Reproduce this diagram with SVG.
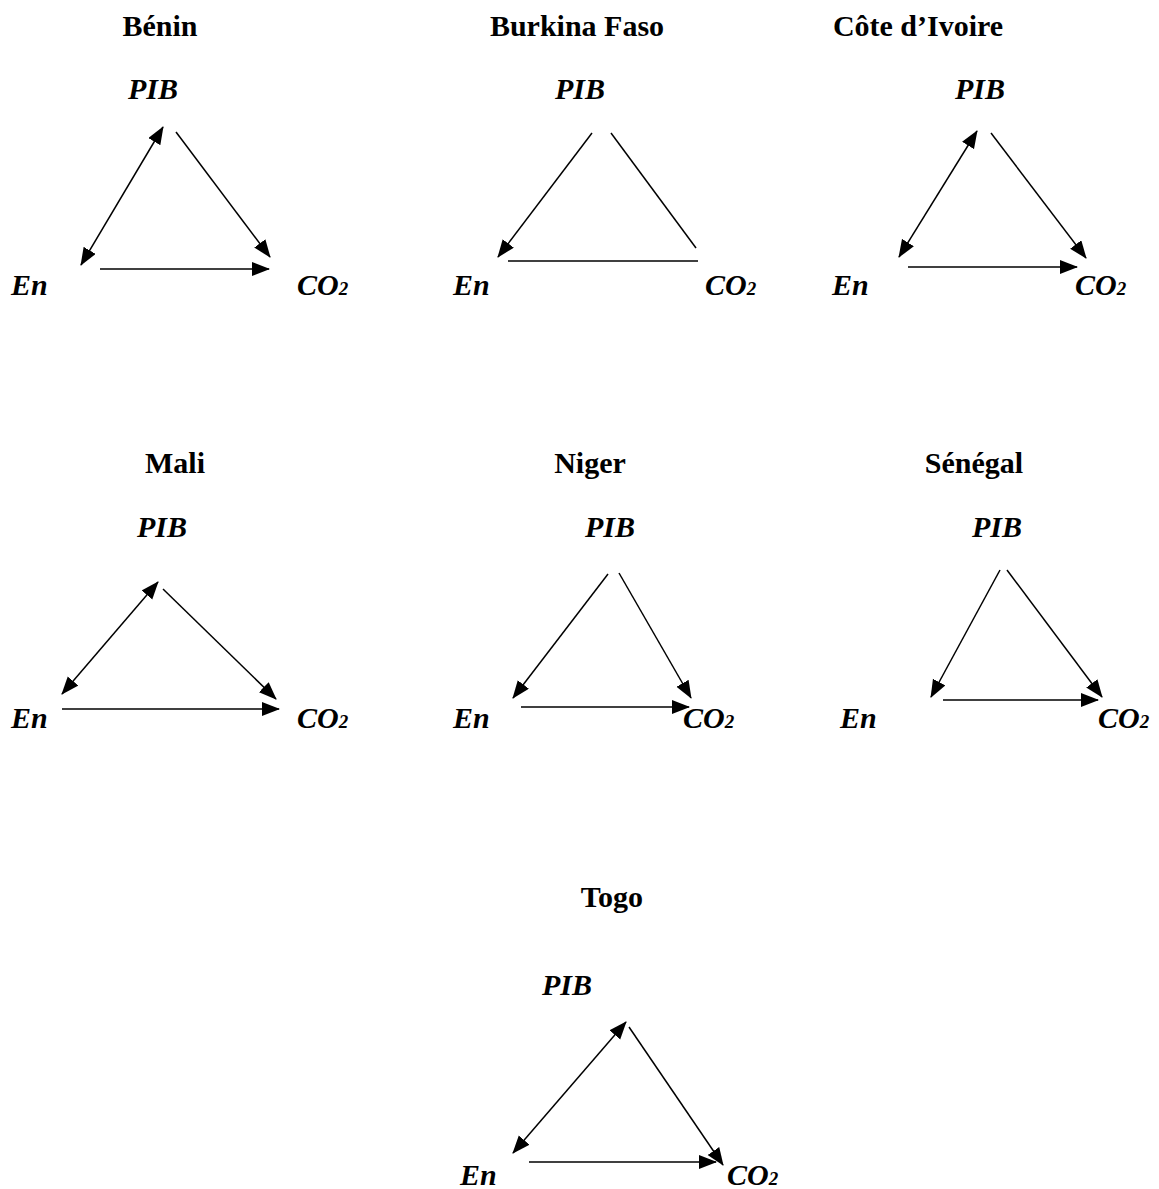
<svg xmlns="http://www.w3.org/2000/svg" width="1159" height="1189" viewBox="0 0 1159 1189">
<style>
.title{font-family:"Liberation Serif","DejaVu Serif",serif;font-size:30px;font-weight:bold;fill:#000;text-anchor:middle}
.lab{font-family:"Liberation Serif","DejaVu Serif",serif;font-size:30px;font-weight:bold;font-style:italic;fill:#000}
.sub{font-size:19px}
.c{stroke:#000;stroke-width:1.5;fill:none}
.a{marker-end:url(#ah)}
.d{marker-end:url(#ah);marker-start:url(#ah)}
</style>
<defs>
<marker id="ah" markerUnits="userSpaceOnUse" markerWidth="19" markerHeight="15" refX="17" refY="7" orient="auto-start-reverse" viewBox="0 0 19 15">
<path d="M0,0 L18,7 L0,14 z" fill="#000"/>
</marker>
</defs>
<rect width="1159" height="1189" fill="#fff"/>

<g id="benin">
<text class="title" x="160" y="36">Bénin</text>
<text class="lab" x="128" y="99">PIB</text>
<text class="lab" x="11" y="295">En</text>
<text class="lab" x="297" y="295">CO<tspan class="sub">2</tspan></text>
</g>
<g id="burkina">
<text class="title" x="577" y="36">Burkina Faso</text>
<text class="lab" x="555" y="99">PIB</text>
<text class="lab" x="453" y="295">En</text>
<text class="lab" x="705" y="295">CO<tspan class="sub">2</tspan></text>
</g>
<g id="cote">
<text class="title" x="918" y="36">Côte d’Ivoire</text>
<text class="lab" x="955" y="99">PIB</text>
<text class="lab" x="832" y="295">En</text>
<text class="lab" x="1075" y="295">CO<tspan class="sub">2</tspan></text>
</g>
<g id="mali">
<text class="title" x="175" y="473">Mali</text>
<text class="lab" x="137" y="537">PIB</text>
<text class="lab" x="11" y="728">En</text>
<text class="lab" x="297" y="728">CO<tspan class="sub">2</tspan></text>
</g>
<g id="niger">
<text class="title" x="590" y="473">Niger</text>
<text class="lab" x="585" y="537">PIB</text>
<text class="lab" x="453" y="728">En</text>
<text class="lab" x="683" y="728">CO<tspan class="sub">2</tspan></text>
</g>
<g id="senegal">
<text class="title" x="974" y="473">Sénégal</text>
<text class="lab" x="972" y="537">PIB</text>
<text class="lab" x="840" y="728">En</text>
<text class="lab" x="1098" y="728">CO<tspan class="sub">2</tspan></text>
</g>
<g id="togo">
<text class="title" x="612" y="907">Togo</text>
<text class="lab" x="542" y="995">PIB</text>
<text class="lab" x="460" y="1185">En</text>
<text class="lab" x="727" y="1185">CO<tspan class="sub">2</tspan></text>
</g>

<g id="connectors">
<!-- Benin -->
<line class="c d" x1="81" y1="265" x2="163" y2="127"/>
<line class="c a" x1="176" y1="132" x2="270" y2="257"/>
<line class="c a" x1="100" y1="269" x2="269" y2="269"/>
<!-- Burkina -->
<line class="c a" x1="592" y1="133" x2="498" y2="257"/>
<line class="c" x1="611" y1="133" x2="696" y2="248"/>
<line class="c" x1="508" y1="261" x2="698" y2="261"/>
<!-- Cote -->
<line class="c d" x1="899" y1="257" x2="977" y2="131"/>
<line class="c a" x1="991" y1="133" x2="1086" y2="258"/>
<line class="c a" x1="908" y1="267" x2="1077" y2="267"/>
<!-- Mali -->
<line class="c d" x1="62" y1="694" x2="158" y2="582"/>
<line class="c a" x1="163" y1="589" x2="276" y2="699"/>
<line class="c a" x1="62" y1="709" x2="279" y2="709"/>
<!-- Niger -->
<line class="c a" x1="608" y1="574" x2="513" y2="698"/>
<line class="c a" x1="619" y1="573" x2="691" y2="698"/>
<line class="c a" x1="521" y1="707" x2="689" y2="707"/>
<!-- Senegal -->
<line class="c a" x1="1000" y1="570" x2="931" y2="697"/>
<line class="c a" x1="1007" y1="570" x2="1102" y2="697"/>
<line class="c a" x1="943" y1="700" x2="1098" y2="700"/>
<!-- Togo -->
<line class="c d" x1="513" y1="1153" x2="626" y2="1022"/>
<line class="c a" x1="629" y1="1027" x2="723" y2="1165"/>
<line class="c a" x1="529" y1="1162" x2="716" y2="1162"/>
</g>
</svg>
